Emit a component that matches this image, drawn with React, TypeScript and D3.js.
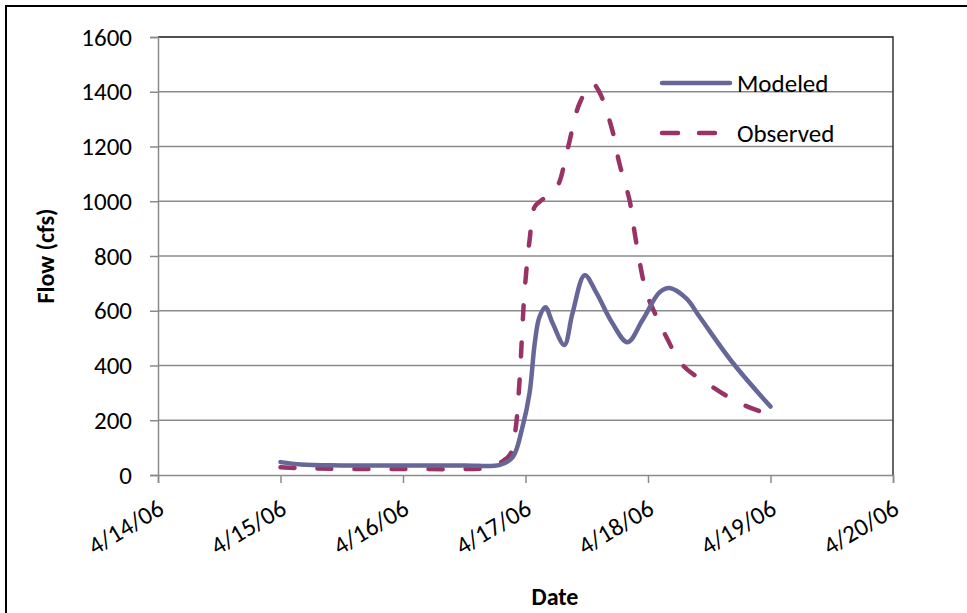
import { useEffect, useRef } from 'react'
import * as d3 from 'd3'

// hours after 4/15/06 00:00
const modeledHours = [0, 4, 12, 24, 36, 43, 45.5, 47.4, 48.8, 49.8, 50.7, 51.9, 53.3, 55.6, 57.2, 59.6, 61.9, 65, 68, 70.9, 74.3, 76.2, 79.5, 82.1, 88.6, 96]
const modeledFlow = [47, 38, 35, 35, 35, 37, 65, 175, 300, 480, 575, 613, 555, 475, 590, 730, 665, 555, 485, 565, 668, 683, 645, 578, 410, 250]

const observedHours = [0, 4, 12, 24, 36, 41, 43.5, 45, 46, 46.8, 47.8, 48.8, 49.8, 51.1, 54.1, 56.2, 58.6, 61.1, 62.5, 65, 66.4, 68.4, 69, 70.3, 71.7, 73.7, 75.6, 78.8, 83.5, 89.9, 96]
const observedFlow = [28, 25, 22, 22, 22, 27, 50, 75, 160, 335, 665, 858, 980, 1003, 1050, 1187, 1358, 1430, 1398, 1260, 1138, 1003, 930, 785, 665, 577, 504, 401, 336, 263, 219]

const yTicks = [0, 200, 400, 600, 800, 1000, 1200, 1400, 1600]
const seriesNames = ['Modeled', 'Observed']
const seriesColors = ['#666699', '#993366']

const FONT = 'Carlito, Lato, sans-serif'

export default function App() {
  const svgRef = useRef<SVGSVGElement>(null)

  useEffect(() => {
    if (!svgRef.current) return
    const svg = d3.select(svgRef.current)
    svg.selectAll('*').remove()

    const plot = { left: 158, top: 37, right: 893, bottom: 475 }
    const start = new Date(2006, 3, 15)
    const toDate = (h: number) => new Date(start.getTime() + h * 3600 * 1000)

    const x = d3.scaleTime()
      .domain([new Date(2006, 3, 14), new Date(2006, 3, 20)])
      .range([plot.left, plot.right])
    const y = d3.scaleLinear().domain([0, 1600]).range([plot.bottom, plot.top])

    // outer chart frame (runs off the right and bottom edges)
    svg.append('rect')
      .attr('x', 6).attr('y', 6)
      .attr('width', 1000).attr('height', 700)
      .attr('fill', '#fff')
      .attr('stroke', '#000')
      .attr('stroke-width', 2)

    // gridlines
    svg.append('g')
      .selectAll('line')
      .data(yTicks.slice(1))
      .enter()
      .append('line')
      .attr('x1', plot.left).attr('x2', plot.right)
      .attr('y1', d => y(d)).attr('y2', d => y(d))
      .attr('stroke', '#8a8a8a')
      .attr('stroke-width', 1.5)

    // plot area border top / right
    svg.append('path')
      .attr('d', `M${plot.left},${plot.top}H${plot.right}V${plot.bottom}`)
      .attr('fill', 'none')
      .attr('stroke', '#333')
      .attr('stroke-width', 1.5)

    // y axis
    const yAxis = d3.axisLeft(y).tickValues(yTicks).tickSize(8).tickPadding(18).tickFormat(d3.format('d'))
    const ya = svg.append('g')
      .attr('transform', `translate(${plot.left},0)`)
      .call(yAxis)
    ya.select('.domain').attr('stroke', '#8a8a8a').attr('stroke-width', 1.5)
    ya.selectAll('.tick line').attr('stroke', '#8a8a8a').attr('stroke-width', 1.5)
    ya.selectAll('.tick text')
      .attr('fill', '#000')
      .attr('font-family', FONT)
      .attr('font-size', '25px')

    // x axis
    const xAxis = d3.axisBottom(x)
      .ticks(d3.timeDay.every(1))
      .tickSize(8)
      .tickFormat(d3.timeFormat('%-m/%d/%y') as any)
    const xa = svg.append('g')
      .attr('transform', `translate(0,${plot.bottom})`)
      .call(xAxis)
    xa.select('.domain').attr('stroke', '#8a8a8a').attr('stroke-width', 1.5)
    xa.selectAll('.tick line').attr('stroke', '#8a8a8a').attr('stroke-width', 1.5)
    xa.selectAll('.tick text')
      .attr('fill', '#000')
      .attr('font-family', FONT)
      .attr('font-size', '25px')
      .attr('text-anchor', 'end')
      .attr('dy', 0)
      .attr('y', 0)
      .attr('transform', 'translate(7,38) rotate(-31)')

    // axis titles
    svg.append('text')
      .attr('x', 555).attr('y', 605)
      .attr('text-anchor', 'middle')
      .attr('font-family', FONT)
      .attr('font-weight', 'bold')
      .attr('font-size', '24px')
      .text('Date')
    svg.append('text')
      .attr('transform', 'translate(54,256) rotate(-90)')
      .attr('text-anchor', 'middle')
      .attr('font-family', FONT)
      .attr('font-weight', 'bold')
      .attr('font-size', '24px')
      .text('Flow (cfs)')

    const line = d3.line<[number, number]>()
      .x(d => x(toDate(d[0])))
      .y(d => y(d[1]))
      .curve(d3.curveCatmullRom.alpha(0.5))

    const modeled = modeledHours.map((h, i) => [h, modeledFlow[i]] as [number, number])
    const observed = observedHours.map((h, i) => [h, observedFlow[i]] as [number, number])

    svg.append('path')
      .attr('d', line(observed))
      .attr('fill', 'none')
      .attr('stroke', seriesColors[1])
      .attr('stroke-width', 4.5)
      .attr('stroke-linecap', 'round')
      .attr('stroke-dasharray', '14 23')

    svg.append('path')
      .attr('d', line(modeled))
      .attr('fill', 'none')
      .attr('stroke', seriesColors[0])
      .attr('stroke-width', 4.5)
      .attr('stroke-linecap', 'round')

    // legend
    const legend = svg.append('g')
    seriesNames.forEach((name, i) => {
      const ly = 83 + i * 50
      legend.append('line')
        .attr('x1', 662).attr('x2', i === 0 ? 730 : 734)
        .attr('y1', ly).attr('y2', ly)
        .attr('stroke', seriesColors[i])
        .attr('stroke-width', 4.5)
        .attr('stroke-linecap', 'round')
        .attr('stroke-dasharray', i === 0 ? null : '16 21')
      legend.append('text')
        .attr('x', 737).attr('y', ly + 9)
        .attr('font-family', FONT)
        .attr('font-size', '25px')
        .attr('fill', '#000')
        .text(name)
    })
  }, [])

  return (
    <svg
      ref={svgRef}
      width={967}
      height={613}
      style={{ position: 'absolute', left: 0, top: 0, background: '#fff' }}
    />
  )
}
